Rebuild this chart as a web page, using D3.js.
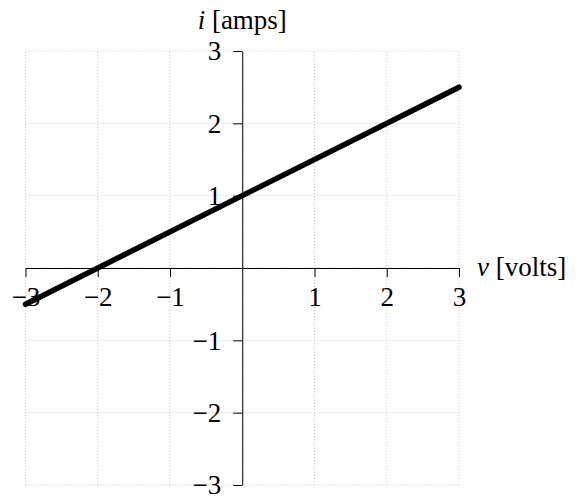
<!DOCTYPE html>
<html lang="en">
<head>
<meta charset="utf-8">
<script src="https://d3js.org/d3.v7.min.js"></script>
<style>
  body { margin: 0; background: #fff; }
  text { font-family: "Liberation Serif", "DejaVu Serif", serif; font-size: 27px; fill: #000; }
</style>
</head>
<body>
<svg id="chart" width="581" height="498"></svg>
<script>
// line i = v/2 + 1, endpoints
var voltage = [-3, 3];
var current = [-0.5, 2.5];
var xTicks = [-3, -2, -1, 1, 2, 3];
var yTicks = [-3, -2, -1, 1, 2, 3];
var gridVals = [-3, -2, -1, 0, 1, 2, 3];

var svg = d3.select("#chart");
var x = d3.scaleLinear().domain([-3, 3]).range([25.5, 459]);
var y = d3.scaleLinear().domain([-3, 3]).range([485, 51]);
var minus = function (d) { return d < 0 ? "\u2212" + Math.abs(d) : String(d); };

// dotted grid
var grid = svg.append("g").attr("stroke", "#c8c8c8").attr("stroke-width", 1)
  .attr("stroke-dasharray", "1,2").attr("fill", "none");
grid.selectAll(".gx").data(gridVals).enter().append("line")
  .attr("x1", function (d) { return x(d); }).attr("x2", function (d) { return x(d); })
  .attr("y1", y(-3)).attr("y2", y(3));
grid.selectAll(".gy").data(gridVals).enter().append("line")
  .attr("y1", function (d) { return y(d); }).attr("y2", function (d) { return y(d); })
  .attr("x1", x(-3)).attr("x2", x(3));

// axes through origin
var xAxis = d3.axisBottom(x).tickValues(xTicks).tickFormat(minus).tickSizeInner(9).tickSizeOuter(0).tickPadding(4);
var yAxis = d3.axisLeft(y).tickValues(yTicks).tickFormat(minus).tickSizeInner(9).tickSizeOuter(0).tickPadding(12);

var gx = svg.append("g").attr("transform", "translate(0," + y(0) + ")").call(xAxis);
var gy = svg.append("g").attr("transform", "translate(" + x(0) + ",0)").call(yAxis);
[gx, gy].forEach(function (g) {
  g.attr("font-size", null).attr("font-family", null);
  g.select(".domain").attr("stroke", "#000").attr("stroke-width", 1);
  g.selectAll(".tick line").attr("stroke", "#000").attr("stroke-width", 1);
  g.selectAll(".tick text").style("font-size", "27px");
});
gx.selectAll(".tick text").attr("dy", null).attr("y", 38);
gy.selectAll(".tick text").attr("dy", "0.33em");

// the characteristic line
svg.append("path")
  .datum(d3.zip(voltage, current))
  .attr("fill", "none").attr("stroke", "#000").attr("stroke-width", 5.5)
  .attr("stroke-linecap", "round")
  .attr("d", d3.line().x(function (d) { return x(d[0]); }).y(function (d) { return y(d[1]); }));

// axis labels
var yl = svg.append("text").attr("x", x(0)).attr("y", 29).attr("text-anchor", "middle");
yl.append("tspan").style("font-style", "italic").text("i");
yl.append("tspan").text(" [amps]");
var xl = svg.append("text").attr("x", 477).attr("y", 276);
xl.append("tspan").style("font-style", "italic").text("v");
xl.append("tspan").text(" [volts]");
</script>
</body>
</html>
